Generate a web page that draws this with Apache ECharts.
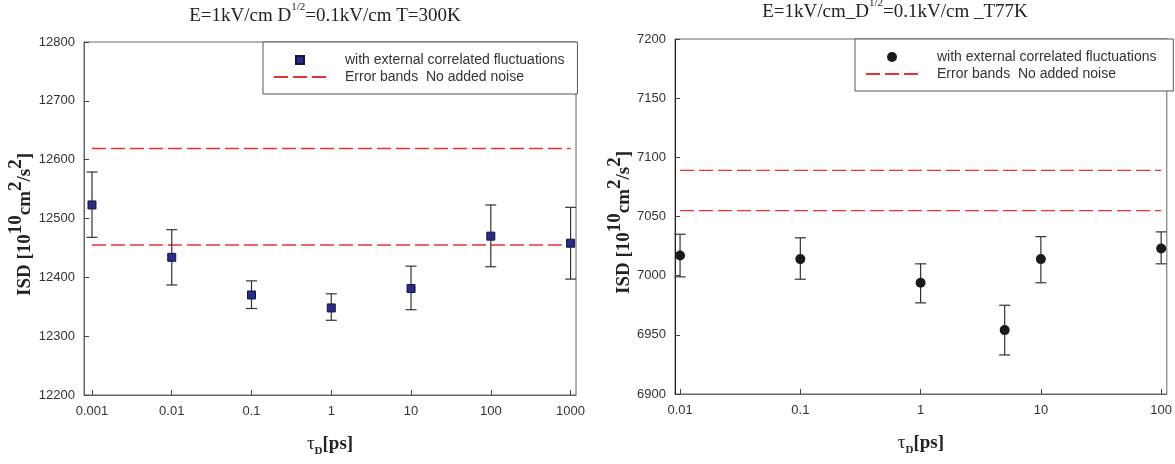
<!DOCTYPE html>
<html><head><meta charset="utf-8">
<script src="https://cdn.jsdelivr.net/npm/echarts@6/dist/echarts.min.js"></script>
<style>html,body{margin:0;padding:0;background:#fff}#c{width:1175px;height:464px}</style>
</head><body><div id="c"></div>
<script>
// ---- data (left panel, T=300K) ----
const tauTicksL = [0.001, 0.01, 0.1, 1, 10, 100, 1000];
const tauL   = [0.001, 0.01, 0.1, 1, 10, 100, 1000];
const isdL   = [12523, 12434, 12370, 12348, 12381, 12470, 12458];
const errLoL = [12468, 12387, 12347, 12327, 12345, 12418, 12397];
const errHiL = [12579, 12481, 12394, 12372, 12419, 12523, 12519];
const bandsL = [12619, 12455];
// ---- data (right panel, T=77K) ----
const tauTicksR = [0.01, 0.1, 1, 10, 100];
const tauR   = [0.01, 0.1, 1, 5, 10, 100];
const isdR   = [7017, 7014, 6994, 6954, 7014, 7023];
const errLoR = [6999, 6997, 6977, 6933, 6994, 7010];
const errHiR = [7035, 7032, 7010, 6975, 7033, 7037];
const bandsR = [7089, 7055];

const NAME_PTS = 'with external correlated fluctuations';
const NAME_PTS_R = 'with external correlated fluctuations ';
const NAME_BAND = 'Error bands  No added noise';
const NAME_BAND_R = 'Error bands  No added noise ';

const SERIF = '"Liberation Serif", "Times New Roman", serif';
const SANS = '"Liberation Sans", Arial, sans-serif';
const SQUARE = 'path://M0,0L10,0L10,10L0,10Z';

const chart = echarts.init(document.getElementById('c'), null, {renderer: 'canvas'});

function fmt(v) { return String(+Number(v).toPrecision(6)); }

function errSeries(idx, tau, lo, hi) {
  return {
    type: 'custom', xAxisIndex: idx, yAxisIndex: idx, silent: true, z: 2,
    data: tau.map((t, i) => [t, lo[i], hi[i]]),
    encode: {x: 0, y: [1, 2]},
    renderItem(params, api) {
      const x = api.value(0);
      const p1 = api.coord([x, api.value(1)]);
      const p2 = api.coord([x, api.value(2)]);
      const w = 5.5;
      const st = {stroke: '#333', lineWidth: 1.2};
      return {type: 'group', children: [
        {type: 'line', shape: {x1: p1[0], y1: p1[1], x2: p2[0], y2: p2[1]}, style: st},
        {type: 'line', shape: {x1: p1[0] - w, y1: p1[1], x2: p1[0] + w, y2: p1[1]}, style: st},
        {type: 'line', shape: {x1: p2[0] - w, y1: p2[1], x2: p2[0] + w, y2: p2[1]}, style: st}
      ]};
    }
  };
}

function bandSeries(idx, name, tau, y) {
  return {
    type: 'line', name: name, xAxisIndex: idx, yAxisIndex: idx, z: 1,
    symbol: 'none', showSymbol: false, symbolSize: 0, silent: true,
    data: [[tau[0], y], [tau[tau.length - 1], y]],
    itemStyle: {color: '#ee3030'},
    lineStyle: {color: '#ee3030', width: 1.3, type: [14, 5]}
  };
}

function xAxisOf(idx, ticks, padLo, padHi) {
  return {
    type: 'log', gridIndex: idx,
    min: ticks[0] / Math.pow(10, padLo),
    max: ticks[ticks.length - 1] * Math.pow(10, padHi),
    axisLine: {lineStyle: {color: '#666', width: 1}},
    axisTick: {inside: true, length: 5, lineStyle: {color: '#444'}, customValues: ticks},
    axisLabel: {customValues: ticks, formatter: fmt, color: '#333', fontSize: 13, fontFamily: SANS, margin: 10},
    splitLine: {show: false},
    minorTick: {show: false},
    name: '{t|τ}{d|D}{b|[ps]}', nameLocation: 'middle', nameGap: 40,
    nameTextStyle: {rich: {
      t: {fontFamily: SERIF, fontSize: 19, color: '#222', lineHeight: 22, verticalAlign: 'top'},
      d: {fontFamily: SERIF, fontSize: 11, fontWeight: 'bold', color: '#222', lineHeight: 11, verticalAlign: 'bottom'},
      b: {fontFamily: SERIF, fontSize: 19, fontWeight: 'bold', color: '#222', lineHeight: 22, verticalAlign: 'top'}
    }}
  };
}

function yAxisOf(idx, min, max, interval, lineColor) {
  const base = {fontFamily: SERIF, fontSize: 19, fontWeight: 'bold', color: '#222', lineHeight: 28, verticalAlign: 'bottom'};
  const sup = {fontFamily: SERIF, fontSize: 19, fontWeight: 'bold', color: '#222', lineHeight: 19, verticalAlign: 'top'};
  const last = Object.assign({}, base, {padding: [0, 12, 0, 0]});
  return {
    type: 'value', gridIndex: idx, min: min, max: max, interval: interval,
    axisLine: {show: true, lineStyle: {color: lineColor, width: 1}},
    axisTick: {show: true, inside: true, length: 5, lineStyle: {color: '#444'}},
    axisLabel: {color: '#333', fontSize: 13, fontFamily: SANS, margin: 9, formatter: fmt},
    splitLine: {show: false},
    name: '{b|ISD [10}{s|10}{b|cm}{s|2}{b|/s}{s|2}{e|]}',
    nameLocation: 'middle', nameGap: 41,
    nameTextStyle: {rich: {b: base, s: sup, e: last}}
  };
}

function legendOf(left, top, names, ih) {
  return {
    orient: 'vertical', left: left, top: top,
    data: names,
    itemWidth: 52, itemHeight: ih, itemGap: 3,
    symbolKeepAspect: true,
    padding: [11, 13, 10, 10],
    backgroundColor: '#fff', borderColor: '#555', borderWidth: 1, borderRadius: 0,
    selectedMode: false,
    textStyle: {fontFamily: SANS, fontSize: 14, color: '#333', lineHeight: 14, padding: [0, 0, 0, 14]}
  };
}

const titleRich = {
  a: {fontFamily: SERIF, fontSize: 19, fontWeight: 'normal', color: '#222', lineHeight: 24, verticalAlign: 'bottom'},
  s: {fontFamily: SERIF, fontSize: 11, fontWeight: 'normal', color: '#222', lineHeight: 11, verticalAlign: 'top'}
};

const option = {
  backgroundColor: '#fff',
  animation: false,
  title: [
    {text: '{a|E=1kV/cm D}{s|1/2}{a|=0.1kV/cm T=300K}', left: 325, top: 2, textAlign: 'center', padding: 0,
     textStyle: {fontWeight: 'normal', rich: titleRich}},
    {text: '{a|E=1kV/cm_D}{s|1/2}{a|=0.1kV/cm _T77K}', left: 895, top: -2, textAlign: 'center', padding: 0,
     textStyle: {fontWeight: 'normal', rich: titleRich}}
  ],
  legend: [
    legendOf(263, 42, [NAME_PTS, {name: NAME_BAND, itemStyle: {opacity: 0}}], 8),
    legendOf(855, 39, [NAME_PTS_R, {name: NAME_BAND_R, itemStyle: {opacity: 0}}], 10)
  ],
  grid: [
    {left: 84, top: 42, width: 492, height: 353, show: true, borderColor: '#666', borderWidth: 1, backgroundColor: 'transparent'},
    {left: 675, top: 39, width: 492, height: 355, show: true, borderColor: '#666', borderWidth: 1, backgroundColor: 'transparent'}
  ],
  xAxis: [xAxisOf(0, tauTicksL, 0.1, 0.068), xAxisOf(1, tauTicksR, 0.042, 0.047)],
  yAxis: [yAxisOf(0, 12200, 12800, 100, '#666'), yAxisOf(1, 6900, 7200, 50, '#222')],
  series: [
    bandSeries(0, NAME_BAND, tauL, bandsL[0]),
    bandSeries(0, NAME_BAND, tauL, bandsL[1]),
    errSeries(0, tauL, errLoL, errHiL),
    {type: 'scatter', name: NAME_PTS, xAxisIndex: 0, yAxisIndex: 0, z: 3,
     symbol: SQUARE, symbolSize: 8, symbolKeepAspect: true,
     itemStyle: {color: '#2a2a88', borderColor: '#151545', borderWidth: 1, opacity: 1},
     data: tauL.map((t, i) => [t, isdL[i]])},
    bandSeries(1, NAME_BAND_R, tauR, bandsR[0]),
    bandSeries(1, NAME_BAND_R, tauR, bandsR[1]),
    errSeries(1, tauR, errLoR, errHiR),
    {type: 'scatter', name: NAME_PTS_R, xAxisIndex: 1, yAxisIndex: 1, z: 3,
     symbol: 'circle', symbolSize: 10,
     itemStyle: {color: '#1a1a1a', opacity: 1},
     data: tauR.map((t, i) => [t, isdR[i]])}
  ]
};
chart.setOption(option);
</script>
</body></html>
